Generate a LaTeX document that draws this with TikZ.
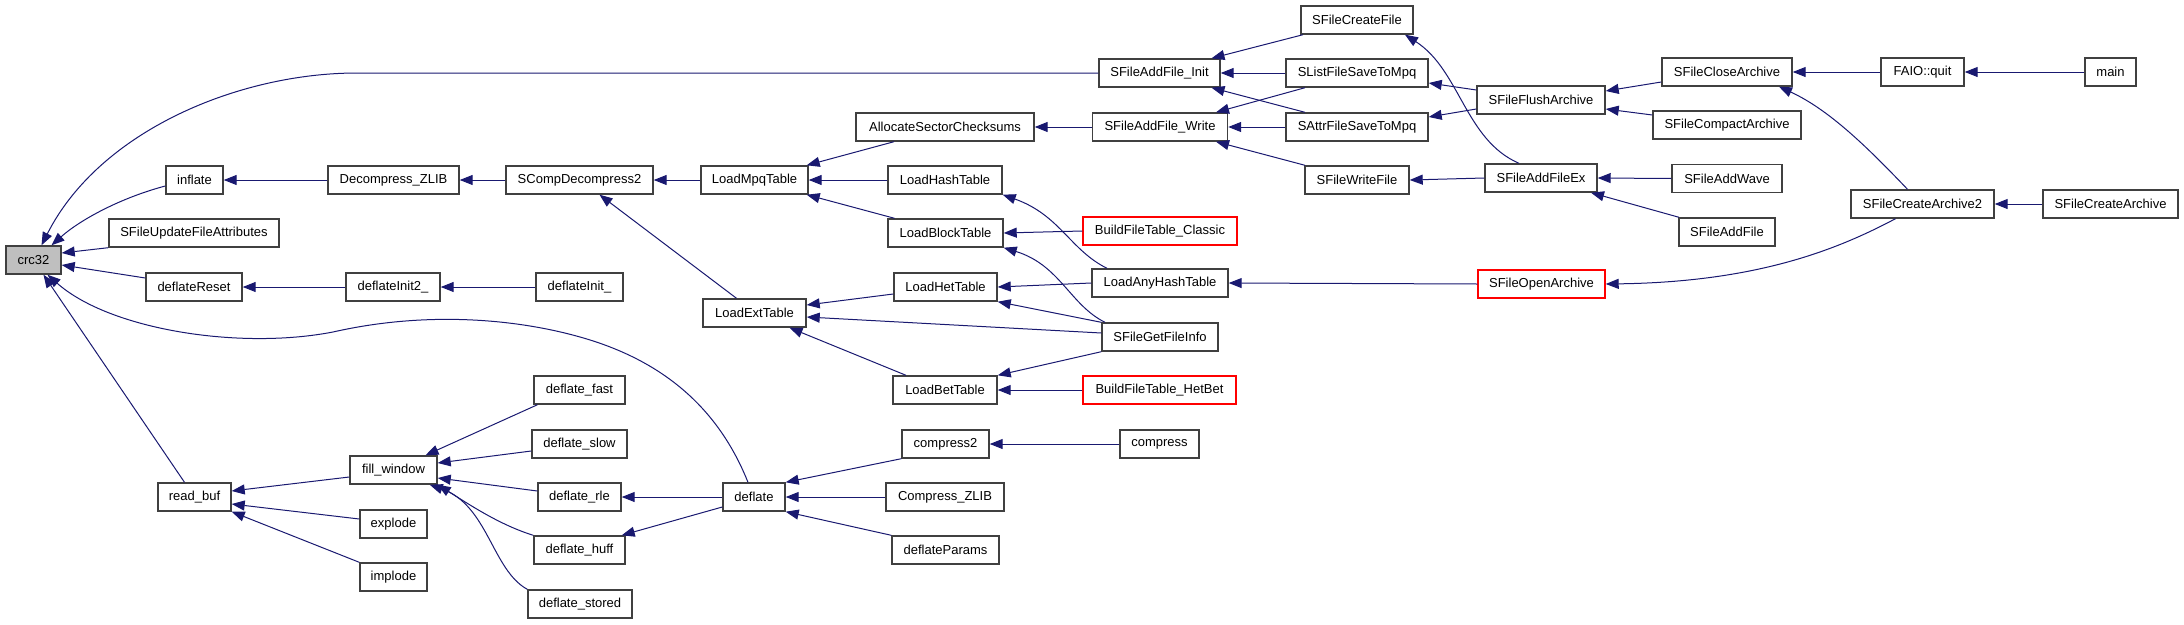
\documentclass[tikz,border=0pt]{standalone}
\usepackage{fontspec}
\setmainfont{Liberation Sans}
\usetikzlibrary{arrows.meta}
\definecolor{edgeblue}{HTML}{191970}
\definecolor{boxgray}{HTML}{404040}
\tikzset{
  fbox/.style={draw=boxgray, line width=1.4pt, rectangle, minimum height=28pt, inner sep=0pt,
    font=\fontsize{13}{15}\selectfont, fill=white},
  redbox/.style={fbox, draw=red},
  rootbox/.style={fbox, fill=black!25},
  edge/.style={draw=edgeblue, line width=1pt, -{Triangle[length=13pt,width=10pt]}},
}
\begin{document}
\begin{tikzpicture}[x=1pt,y=-1pt]
\useasboundingbox (0,0) rectangle (2184,624);
% column 0
\node[rootbox, minimum width=55pt] (crc) at (33.5,260) {crc32};
% column 1
\node[fbox, minimum width=57pt] (inflate) at (194.5,180) {inflate};
\node[fbox, minimum width=170pt] (sfufa) at (194,233) {SFileUpdateFileAttributes};
\node[fbox, minimum width=96pt] (dreset) at (194,287) {deflateReset};
\node[fbox, minimum width=73pt] (rb) at (194.5,497) {read\_buf};
% column 2
\node[fbox, minimum width=131pt] (dzlib) at (393.5,180) {Decompress\_ZLIB};
\node[fbox, minimum width=94pt] (dinit2) at (393,287) {deflateInit2\_};
\node[fbox, minimum width=87pt] (fw) at (393.5,470) {fill\_window};
\node[fbox, minimum width=67pt] (explode) at (393.5,524) {explode};
\node[fbox, minimum width=67pt] (implode) at (393.5,577) {implode};
% column 3
\node[fbox, minimum width=147pt] (scd) at (579.5,180) {SCompDecompress2};
\node[fbox, minimum width=87pt] (dinit) at (579.5,287) {deflateInit\_};
\node[fbox, minimum width=91pt] (dfast) at (579.5,390) {deflate\_fast};
\node[fbox, minimum width=95pt] (dslow) at (579.5,444) {deflate\_slow};
\node[fbox, minimum width=83pt] (drle) at (579.5,497) {deflate\_rle};
\node[fbox, minimum width=91pt] (dhuff) at (579.5,550) {deflate\_huff};
\node[fbox, minimum width=104pt] (dstored) at (580,604) {deflate\_stored};
% column 4
\node[fbox, minimum width=107pt] (lmt) at (754.5,180) {LoadMpqTable};
\node[fbox, minimum width=103pt] (let) at (754.5,313) {LoadExtTable};
\node[fbox, minimum width=62pt] (deflate) at (754,497) {deflate};
% column 5
\node[fbox, minimum width=178pt] (asc) at (945,127) {AllocateSectorChecksums};
\node[fbox, minimum width=114pt] (lht) at (945,180) {LoadHashTable};
\node[fbox, minimum width=115pt] (lbt) at (945.5,233) {LoadBlockTable};
\node[fbox, minimum width=103pt] (lhet) at (945.5,287) {LoadHetTable};
\node[fbox, minimum width=104pt] (lbet) at (945,390) {LoadBetTable};
\node[fbox, minimum width=87pt] (c2) at (945.5,444) {compress2};
\node[fbox, minimum width=118pt] (czlib) at (945,497) {Compress\_ZLIB};
\node[fbox, minimum width=107pt] (dparams) at (945.5,550) {deflateParams};
% column 6
\node[fbox, minimum width=121pt] (safi) at (1159.5,73) {SFileAddFile\_Init};
\node[fbox, minimum width=135pt] (safw) at (1160,127) {SFileAddFile\_Write};
\node[redbox, minimum width=154pt] (bftc) at (1160,231) {BuildFileTable\_Classic};
\node[fbox, minimum width=136pt] (laht) at (1160,283) {LoadAnyHashTable};
\node[fbox, minimum width=116pt] (sgfi) at (1160,337) {SFileGetFileInfo};
\node[redbox, minimum width=153pt] (bfth) at (1159.5,390) {BuildFileTable\_HetBet};
\node[fbox, minimum width=79pt] (compress) at (1159.5,444) {compress};
% column 7
\node[fbox, minimum width=112pt] (sfcf) at (1357,20) {SFileCreateFile};
\node[fbox, minimum width=142pt] (slist) at (1357,73) {SListFileSaveToMpq};
\node[fbox, minimum width=142pt] (sattr) at (1357,127) {SAttrFileSaveToMpq};
\node[fbox, minimum width=104pt] (sfwf) at (1357,180) {SFileWriteFile};
% column 8
\node[fbox, minimum width=128pt] (sffa) at (1541,100) {SFileFlushArchive};
\node[fbox, minimum width=112pt] (sfafex) at (1541,178) {SFileAddFileEx};
\node[redbox, minimum width=127pt] (sfoa) at (1541.5,284) {SFileOpenArchive};
% column 9
\node[fbox, minimum width=130pt] (sfca) at (1727,72) {SFileCloseArchive};
\node[fbox, minimum width=148pt] (sfcpa) at (1727,125) {SFileCompactArchive};
\node[fbox, minimum width=110pt] (sfaw) at (1727,178.5) {SFileAddWave};
\node[fbox, minimum width=96pt] (sfaf) at (1727,232) {SFileAddFile};
% column 10
\node[fbox, minimum width=83pt] (faio) at (1922.5,72) {FAIO::quit};
\node[fbox, minimum width=143pt] (sfca2) at (1922.5,204) {SFileCreateArchive2};
% column 11
\node[fbox, minimum width=51pt] (main) at (2110.5,72) {main};
\node[fbox, minimum width=135pt] (sfcar) at (2110.5,204) {SFileCreateArchive};
% coordinates
\coordinate (k1) at (357,73);
% edges into crc32
\draw[edge] (safi.west) -- (k1) .. controls (240,73) and (100,130) .. ([xshift=8pt]crc.north);
\draw[edge] ([yshift=-6pt]inflate.west) .. controls (120,198) and (80,220) .. ([xshift=18pt]crc.north);
\draw[edge] (sfufa.south west) -- ([yshift=7pt]crc.east);
\draw[edge] ([yshift=9pt]dreset.west) -- ([yshift=-5pt]crc.east);
\draw[edge] ([xshift=-6pt]deflate.north) .. controls (725,425) and (680,365) .. (580,337)
   .. controls (520,320) and (430,310) .. (333,332)
   .. controls (240,350) and (110,330) .. ([xshift=14pt]crc.south);
\draw[edge] ([xshift=-10pt]rb.north) -- ([xshift=10pt]crc.south);
% column 1-3 chains
\draw[edge] (dzlib.west) -- (inflate.east);
\draw[edge] (scd.west) -- (dzlib.east);
\draw[edge] (lmt.west) -- (scd.east);
\draw[edge] ([xshift=-18pt]let.north) -- ([xshift=20pt]scd.south);
\draw[edge] (dinit2.west) -- (dreset.east);
\draw[edge] (dinit.west) -- (dinit2.east);
% LoadMpqTable
\draw[edge] ([xshift=-51pt]asc.south) -- ([xshift=-2pt]lmt.north east);
\draw[edge] (lht.west) -- (lmt.east);
\draw[edge] ([xshift=-51pt]lbt.north) -- ([xshift=-2pt]lmt.south east);
\draw[edge] (safw.west) -- (asc.east);
\draw[edge] ([xshift=-53pt]laht.north) .. controls (1070,250) and (1060,215) .. (lht.south east);
\draw[edge] (bftc.west) -- (lbt.east);
\draw[edge] ([xshift=-55pt]sgfi.north) .. controls (1070,305) and (1060,265) .. (lbt.south east);
% LoadExtTable
\draw[edge] ([yshift=-7pt]lhet.west) -- ([yshift=8pt]let.east);
\draw[edge] ([yshift=4pt]sgfi.west) -- ([yshift=-4pt]let.east);
\draw[edge] ([xshift=-39pt]lbet.north) -- ([xshift=35pt]let.south);
\draw[edge] (laht.west) -- (lhet.east);
\draw[edge] (sgfi.north west) -- (lhet.south east);
\draw[edge] (sgfi.south west) -- (lbet.north east);
\draw[edge] (bfth.west) -- (lbet.east);
% SFileAddFile_Init / Write
\draw[edge] ([xshift=-54pt]sfcf.south) -- ([xshift=52pt]safi.north);
\draw[edge] (slist.west) -- (safi.east);
\draw[edge] ([xshift=-52pt]sattr.north) -- ([xshift=52pt]safi.south);
\draw[edge] ([xshift=-52pt]slist.south) -- ([xshift=56pt]safw.north);
\draw[edge] (sattr.west) -- (safw.east);
\draw[edge] ([xshift=-52pt]sfwf.north) -- ([xshift=56pt]safw.south);
\draw[edge] ([xshift=-22pt]sfafex.north) .. controls (1465,140) and (1460,70) .. ([xshift=48pt]sfcf.south);
\draw[edge] ([yshift=10pt]sffa.west) -- ([yshift=-10pt]slist.east);
\draw[edge] ([yshift=-9pt]sffa.west) -- ([yshift=10pt]sattr.east);
\draw[edge] (sfafex.west) -- (sfwf.east);
\draw[edge] ([yshift=-10pt]sfca.west) -- ([yshift=9pt]sffa.east);
\draw[edge] ([yshift=10pt]sfcpa.west) -- ([yshift=-9pt]sffa.east);
\draw[edge] (sfaw.west) -- (sfafex.east);
\draw[edge] ([xshift=-48pt]sfaf.north) -- ([xshift=50pt]sfafex.south);
\draw[edge] (sfoa.west) -- (laht.east);
\draw[edge] ([xshift=-27pt]sfca2.south) .. controls (1840,248) and (1760,282) .. (sfoa.east);
\draw[edge] (faio.west) -- (sfca.east);
\draw[edge] ([xshift=-15pt]sfca2.north) .. controls (1870,150) and (1830,110) .. ([xshift=52pt]sfca.south);
\draw[edge] (main.west) -- (faio.east);
\draw[edge] (sfcar.west) -- (sfca2.east);
% read_buf / fill_window
\draw[edge] ([yshift=-7pt]fw.west) -- ([yshift=6pt]rb.east);
\draw[edge] ([yshift=5pt]explode.west) -- ([yshift=-7pt]rb.east);
\draw[edge] (implode.north west) -- (rb.south east);
\draw[edge] ([xshift=-42pt]dfast.south) -- ([xshift=32pt]fw.north);
\draw[edge] ([yshift=-7pt]dslow.west) -- ([yshift=7pt]fw.east);
\draw[edge] ([yshift=6pt]drle.west) -- ([yshift=-8pt]fw.east);
\draw[edge] (dhuff.north west) .. controls (500,525) and (470,505) .. (fw.south east);
\draw[edge] (dstored.north west) .. controls (492,570) and (488,505) .. ([xshift=-8pt]fw.south east);
% deflate
\draw[edge] (deflate.west) -- (drle.east);
\draw[edge] ([yshift=-10pt]deflate.west) -- ([xshift=-4pt]dhuff.north east);
\draw[edge] (c2.south west) -- (deflate.north east);
\draw[edge] (czlib.west) -- (deflate.east);
\draw[edge] (dparams.north west) -- (deflate.south east);
\draw[edge] (compress.west) -- (c2.east);
\end{tikzpicture}
\end{document}
